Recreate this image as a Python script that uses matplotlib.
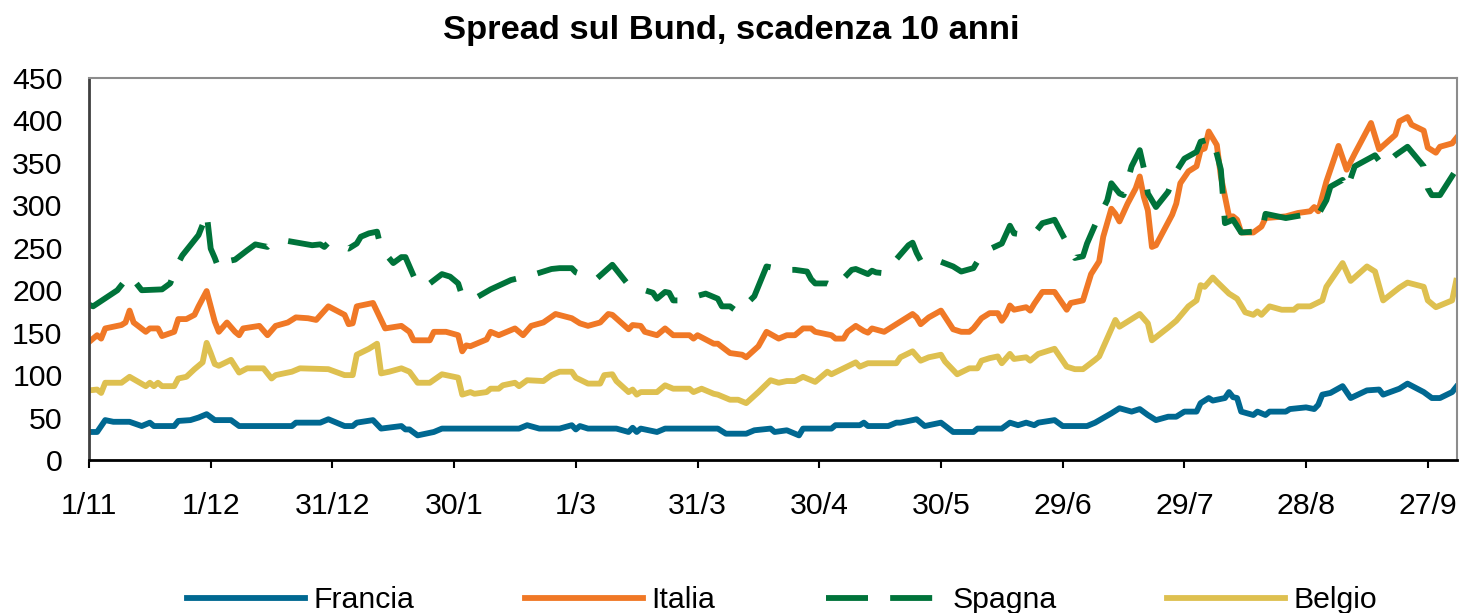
import matplotlib
matplotlib.use('Agg')
import matplotlib.pyplot as plt
import numpy as np
import pandas as pd

START = pd.Timestamp('2010-11-01')

# spread values (days counted from 1/11/2010, basis points)
francia_days = [0, 2, 4, 6, 10, 13, 15, 16, 21, 22, 25, 27, 29, 31, 35, 37, 50, 51, 57, 59,
                63, 65, 66, 70, 72, 77, 78, 79, 81, 85, 87, 106, 108, 111, 116, 119, 120, 121,
                123, 130, 133, 134, 135, 136, 140, 142, 155, 157, 162, 164, 168, 169, 172, 175,
                176, 183, 184, 190, 191, 192, 197, 199, 200, 204, 206, 210, 213, 218, 219, 225,
                227, 229, 231, 233, 234, 238, 240, 246, 248, 252, 254, 257, 259, 261, 263, 266,
                268, 270, 273, 274, 276, 277, 280, 281, 282, 283, 284, 287, 288, 290, 291, 295,
                296, 300, 302, 303, 304, 306, 309, 311, 315, 318, 319, 323, 325, 329, 331, 333,
                336, 337]
francia = [33, 33, 47, 45, 45, 40, 44, 40, 40, 46, 47, 50, 54, 47, 47, 40, 40, 44, 44, 48,
           40, 40, 44, 47, 37, 40, 36, 36, 29, 33, 37, 37, 41, 37, 37, 41, 36, 40,
           37, 37, 33, 38, 33, 37, 33, 37, 37, 31, 31, 35, 37, 33, 35, 29,
           37, 37, 41, 41, 44, 40, 40, 44, 44, 48, 40, 44, 33, 33, 37, 37,
           44, 41, 44, 41, 44, 47, 40, 40, 44, 55, 61, 57, 60, 53, 47, 51,
           51, 57, 57, 67, 73, 70, 73, 80, 74, 73, 57, 53, 57, 53, 57, 57,
           60, 62, 60, 65, 77, 79, 87, 73, 82, 83, 77, 84, 90, 80, 73, 73,
           80, 86]

italia_days = [0, 2, 3, 4, 8, 9, 10, 11, 14, 15, 17, 18, 21, 22, 24, 26, 27, 29, 31, 32,
               34, 36, 37, 38, 42, 44, 46, 49, 51, 54, 56, 59, 63, 64, 65, 66, 70, 73, 77, 79,
               80, 84, 85, 88, 91, 92, 93, 94, 98, 99, 101, 105, 107, 109, 112, 115, 119, 121,
               123, 126, 128, 129, 133, 134, 136, 137, 140, 142, 144, 148, 149, 150, 154, 155,
               158, 161, 162, 165, 167, 170, 172, 174, 176, 178, 179, 183, 184, 186, 187, 189,
               191, 192, 193, 196, 199, 203, 204, 205, 207, 210, 213, 215, 217, 218, 220, 222,
               224, 225, 226, 227, 228, 231, 232, 233, 235, 238, 241, 242, 245, 247, 249, 250,
               252, 253, 254, 256, 258, 259, 260, 261, 262, 263, 267, 268, 269, 271, 273, 274,
               275, 276, 278, 279, 281, 282, 283, 284, 287, 289, 290, 295, 298, 301, 302, 303,
               305, 308, 310, 312, 316, 318, 322, 323, 325, 326, 329, 330, 332, 333, 336, 337]
italia = [139, 147, 143, 155, 159, 162, 176, 162, 151, 155, 155, 146, 151, 166, 166, 171, 181, 199, 163, 151,
          162, 151, 147, 155, 158, 147, 158, 162, 168, 167, 165, 181, 171, 160, 161, 181, 185, 155, 158, 151,
          141, 141, 151, 151, 147, 128, 135, 134, 142, 151, 147, 155, 147, 158, 162, 172, 167, 161,
          158, 162, 172, 171, 154, 159, 158, 151, 147, 155, 147, 147, 143, 147, 137, 137,
          126, 124, 121, 134, 151, 143, 147, 147, 155, 155, 151, 147, 143, 143, 151, 158,
          152, 150, 155, 151, 160, 172, 168, 160, 168, 176, 154, 151, 151, 155, 167, 173,
          173, 164, 171, 182, 177, 180, 176, 184, 198, 198, 177, 185, 188, 219, 234, 263,
          296, 290, 281, 302, 320, 334, 310, 294, 251, 253, 289, 302, 326, 340, 346, 365,
          367, 387, 371, 334, 287, 287, 283, 268, 268, 275, 285, 287, 291, 293, 298, 293,
          328, 370, 342, 361, 397, 366, 383, 399, 404, 395, 388, 368, 362, 369, 373, 379]

spagna_days = [0, 1, 7, 10, 13, 18, 20, 22, 23, 27, 28, 29, 30, 31, 32, 34, 36, 39, 41, 44,
               45, 49, 55, 57, 58, 59, 63, 64, 66, 67, 69, 71, 72, 75, 77, 78, 79, 81, 84, 87,
               89, 91, 92, 95, 99, 104, 110, 114, 116, 119, 120, 125, 129, 133, 139, 140, 142,
               143, 144, 146, 152, 155, 156, 158, 160, 164, 167, 169, 170, 174, 177, 178, 179,
               182, 184, 188, 189, 192, 193, 194, 196, 202, 203, 204, 205, 207, 213, 215, 218,
               219, 220, 225, 227, 228, 231, 233, 235, 238, 240, 243, 245, 246, 248, 251, 252,
               254, 255, 257, 259, 260, 261, 263, 266, 268, 270, 273, 274, 277, 279, 280, 282,
               284, 287, 289, 290, 295, 301, 303, 305, 306, 309, 310, 312, 317, 319, 322, 325,
               329, 330, 331, 333, 337]
spagna = [183, 181, 200, 218, 200, 201, 208, 232, 241, 265, 277, 291, 249, 238, 225, 234, 236, 247, 254, 251,
          256, 258, 253, 254, 251, 256, 251, 249, 255, 263, 267, 269, 249, 232, 239, 239, 228, 206, 208, 219,
          216, 208, 193, 190, 201, 212, 219, 225, 226, 226, 221, 213, 230, 206, 197, 190, 198,
          197, 188, 188, 196, 190, 181, 181, 174, 193, 228, 226, 224, 224, 222, 213, 208,
          208, 204, 224, 225, 219, 223, 221, 220, 253, 256, 244, 235, 239, 228, 222, 226,
          234, 244, 255, 276, 267, 265, 267, 279, 283, 265, 238, 240, 255, 277, 306, 326,
          314, 312, 346, 365, 344, 314, 298, 316, 340, 355, 363, 375, 379, 342, 279, 283,
          268, 269, 268, 290, 285, 290, 289, 306, 322, 330, 318, 346, 359, 346, 359, 369,
          346, 320, 312, 312, 342]

belgio_days = [0, 2, 3, 4, 8, 10, 14, 15, 16, 17, 18, 21, 22, 24, 26, 28, 29, 30, 31, 32,
               35, 37, 39, 43, 45, 46, 50, 52, 59, 63, 65, 66, 69, 71, 72, 74, 77, 79, 81, 84,
               87, 91, 92, 94, 95, 98, 99, 101, 102, 105, 106, 108, 112, 114, 116, 119, 120, 123,
               126, 127, 129, 130, 133, 134, 135, 136, 140, 142, 144, 148, 149, 151, 154, 155,
               158, 160, 162, 165, 168, 170, 172, 174, 176, 179, 182, 183, 186, 189, 190, 192,
               199, 200, 203, 205, 207, 210, 211, 214, 217, 219, 220, 222, 224, 225, 227, 228,
               231, 232, 234, 238, 241, 243, 245, 248, 249, 253, 254, 259, 261, 262, 266, 268,
               271, 273, 274, 275, 277, 278, 281, 282, 283, 285, 287, 288, 289, 291, 294, 297,
               298, 301, 304, 305, 309, 311, 315, 317, 319, 323, 325, 329, 330, 332, 336, 337]
belgio = [82, 83, 79, 91, 91, 98, 87, 91, 87, 91, 87, 87, 96, 98, 107, 115, 138, 126, 113, 111,
          118, 103, 108, 108, 96, 100, 104, 108, 107, 100, 100, 124, 131, 137, 102, 104, 108, 104, 91, 91,
          101, 97, 77, 80, 78, 80, 84, 84, 88, 91, 87, 94, 93, 100, 104, 104, 97, 90,
          90, 100, 101, 93, 80, 83, 77, 80, 80, 88, 84, 84, 80, 84, 78, 77,
          71, 71, 67, 80, 94, 91, 93, 93, 98, 92, 104, 101, 108, 115, 110, 114,
          114, 121, 128, 117, 121, 124, 116, 101, 108, 108, 117, 120, 122, 114, 125, 119,
          121, 117, 125, 131, 110, 107, 107, 118, 122, 165, 157, 172, 161, 141, 156, 164,
          181, 188, 206, 204, 215, 210, 196, 193, 190, 174, 171, 175, 171, 181, 177, 177,
          181, 181, 188, 204, 232, 211, 228, 222, 188, 203, 209, 204, 188, 180, 188, 211]

tick_labels = ['1/11', '1/12', '31/12', '30/1', '1/3', '31/3', '30/4', '30/5',
               '29/6', '29/7', '28/8', '27/9']

COL_FRANCIA = '#006891'
COL_ITALIA = '#F07826'
COL_SPAGNA = '#00733A'
COL_BELGIO = '#DEC050'


def to_dates(days):
    return START + pd.to_timedelta(days, unit='D')


plt.rcParams['font.family'] = ['Liberation Sans', 'DejaVu Sans']

fig = plt.figure(figsize=(14.62, 6.13), dpi=100)
ax = fig.add_axes([89 / 1462, 1 - 460 / 613, (1457 - 89) / 1462, (460 - 78) / 613])

lw = 4.2
ax.plot(to_dates(francia_days), francia, color=COL_FRANCIA, lw=lw, label='Francia')
ax.plot(to_dates(italia_days), italia, color=COL_ITALIA, lw=lw, label='Italia')
ax.plot(to_dates(spagna_days), spagna, color=COL_SPAGNA, lw=lw, label='Spagna',
        linestyle=(0, (7.2, 3.8)))
ax.plot(to_dates(belgio_days), belgio, color=COL_BELGIO, lw=lw, label='Belgio')

# x axis: one tick every 30 days
ticks = START + pd.to_timedelta(np.arange(len(tick_labels)) * 30, unit='D')
ax.set_xticks(ticks)
ax.set_xticklabels(tick_labels)
ax.set_xlim(START, START + pd.Timedelta(days=337.2))
ax.set_ylim(0, 450)
ax.set_yticks(np.arange(0, 451, 50))

ax.tick_params(axis='x', length=6, width=1.5, direction='out', pad=17, labelsize=21.8)
ax.tick_params(axis='y', length=0, pad=19, labelsize=21.8)

ax.spines['left'].set_color('#404040')
ax.spines['left'].set_linewidth(2)
ax.spines['bottom'].set_color('black')
ax.spines['bottom'].set_linewidth(2)
for s in ['top', 'right']:
    ax.spines[s].set_color('#8c8c8c')
    ax.spines[s].set_linewidth(1.5)

fig.text(0.5, 1 - 39 / 613, 'Spread sul Bund, scadenza 10 anni', ha='center',
         va='baseline', fontsize=24.8, fontweight='bold')

handles, labels = ax.get_legend_handles_labels()
fig.legend(handles, labels, loc='center left', bbox_to_anchor=(187 / 1462, 0.021),
           ncol=4, frameon=False, fontsize=21.8, handlelength=3.9, handletextpad=0.28,
           columnspacing=3.65, borderpad=0, borderaxespad=0)

fig.savefig('out.png', dpi=100)
